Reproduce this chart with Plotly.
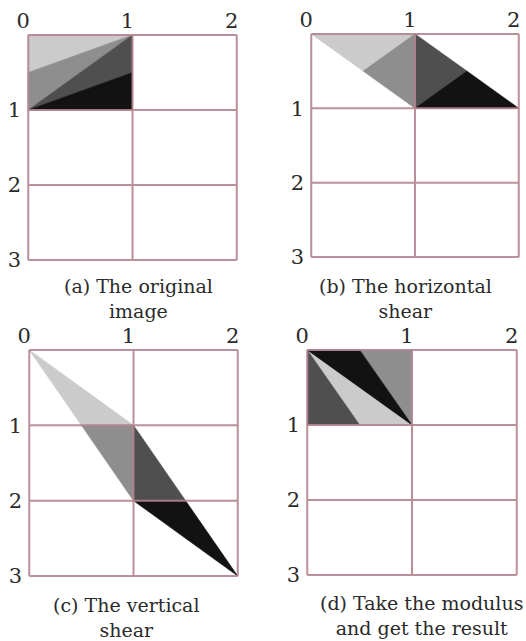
import plotly.graph_objects as go

# ---- data ----
X_TICKS = [0, 1, 2]
X_TICK_LABELS = ["0", "1", "2"]
Y_TICKS = [1, 2, 3]
Y_TICK_LABELS = ["1", "2", "3"]
GRID_X = [0, 1, 2]
GRID_Y = [0, 1, 2, 3]

SHADES = ["#cbcbcb", "#8e8e8e", "#4f4f4f", "#121212"]

# triangle vertices (x, y), y measured downward
PANEL_A_X = [[0, 1, 0], [0, 1, 0], [0, 1, 1], [0, 1, 1]]
PANEL_A_Y = [[0, 0, 0.5], [0.5, 0, 1], [1, 0, 0.5], [1, 0.5, 1]]

PANEL_B_X = [[0, 1, 0.5], [0.5, 1, 1], [1, 1, 1.5], [1, 1.5, 2]]
PANEL_B_Y = [[0, 0, 0.5], [0.5, 0, 1], [1, 0, 0.5], [1, 0.5, 1]]

PANEL_C_X = [[0, 1, 0.5], [0.5, 1, 1], [1, 1, 1.5], [1, 1.5, 2]]
PANEL_C_Y = [[0, 1, 1], [1, 1, 2], [2, 1, 2], [2, 2, 3]]

PANEL_D_X = [[0, 1, 0.5], [0.5, 1, 1], [0, 0, 0.5], [0, 0.5, 1]]
PANEL_D_Y = [[0, 1, 1], [0, 0, 1], [1, 0, 1], [0, 0, 1]]

PANELS = [
    (PANEL_A_X, PANEL_A_Y),
    (PANEL_B_X, PANEL_B_Y),
    (PANEL_C_X, PANEL_C_Y),
    (PANEL_D_X, PANEL_D_Y),
]
CAPTIONS = [
    "(a) The original<br>image",
    "(b) The horizontal<br>shear",
    "(c) The vertical<br>shear",
    "(d) Take the modulus<br>and get the result",
]

# ---- layout geometry (pixels) ----
W, H = 526, 641
BOXES = [  # left, right, top, bottom
    (27, 238, 34, 261),
    (310, 520, 33, 258),
    (28, 239, 349, 577),
    (306, 518, 349, 576),
]
CAPTION_POS = [(138, 298), (405, 298), (126, 617), (421, 615)]

GRID_COLOR = "#b3858f"
FONT = "DejaVu Serif"

fig = go.Figure()

for i, (px, py) in enumerate(PANELS):
    xa = "x" if i == 0 else f"x{i+1}"
    ya = "y" if i == 0 else f"y{i+1}"
    for k in range(len(px)):
        fig.add_trace(go.Scatter(
            x=px[k] + [px[k][0]], y=py[k] + [py[k][0]],
            mode="lines", fill="toself", fillcolor=SHADES[k],
            line=dict(color=SHADES[k], width=0.6),
            xaxis=xa, yaxis=ya, showlegend=False, hoverinfo="skip",
        ))
    # grid lines
    gx, gy = [], []
    for v in GRID_X:
        gx += [v, v, None]
        gy += [GRID_Y[0], GRID_Y[-1], None]
    for v in GRID_Y:
        gx += [GRID_X[0], GRID_X[-1], None]
        gy += [v, v, None]
    fig.add_trace(go.Scatter(
        x=gx, y=gy, mode="lines",
        line=dict(color=GRID_COLOR, width=2),
        xaxis=xa, yaxis=ya, showlegend=False, hoverinfo="skip",
        opacity=0.9,
    ))

layout = {}
for i, (l, r, t, b) in enumerate(BOXES):
    xk = "xaxis" if i == 0 else f"xaxis{i+1}"
    yk = "yaxis" if i == 0 else f"yaxis{i+1}"
    yanchor = "y" if i == 0 else f"y{i+1}"
    xanchor = "x" if i == 0 else f"x{i+1}"
    layout[xk] = dict(
        domain=[l / W, r / W], range=[-0.012, 2.012], side="top",
        tickvals=X_TICKS, ticktext=X_TICK_LABELS, showgrid=False,
        zeroline=False, showline=False, ticks="", anchor=yanchor,
        tickfont=dict(family=FONT, size=21, color="#2a2a2a"),
        ticklabelshift=-5, ticklabelstandoff=1,
        fixedrange=True, automargin=False,
    )
    layout[yk] = dict(
        domain=[1 - b / H, 1 - t / H], range=[3.012, -0.012],
        tickvals=Y_TICKS, ticktext=Y_TICK_LABELS, showgrid=False,
        zeroline=False, showline=False, ticks="", anchor=xanchor,
        tickfont=dict(family=FONT, size=21, color="#2a2a2a"),
        ticklabelstandoff=5,
        fixedrange=True, automargin=False,
    )

annotations = []
for (cx, cy), txt in zip(CAPTION_POS, CAPTIONS):
    annotations.append(dict(
        x=cx / W, y=1 - cy / H, xref="paper", yref="paper",
        text=txt, showarrow=False, align="center",
        xanchor="center", yanchor="middle",
        font=dict(family=FONT, size=19, color="#2a2a2a"),
    ))

fig.update_layout(
    template="none",
    width=W, height=H,
    margin=dict(l=0, r=0, t=0, b=0),
    paper_bgcolor="white", plot_bgcolor="white",
    annotations=annotations,
    **layout,
)

fig.write_html(
    "out.html",
    config={"displayModeBar": False},
    post_script="document.body.style.margin='0';document.body.style.overflow='hidden';",
)
